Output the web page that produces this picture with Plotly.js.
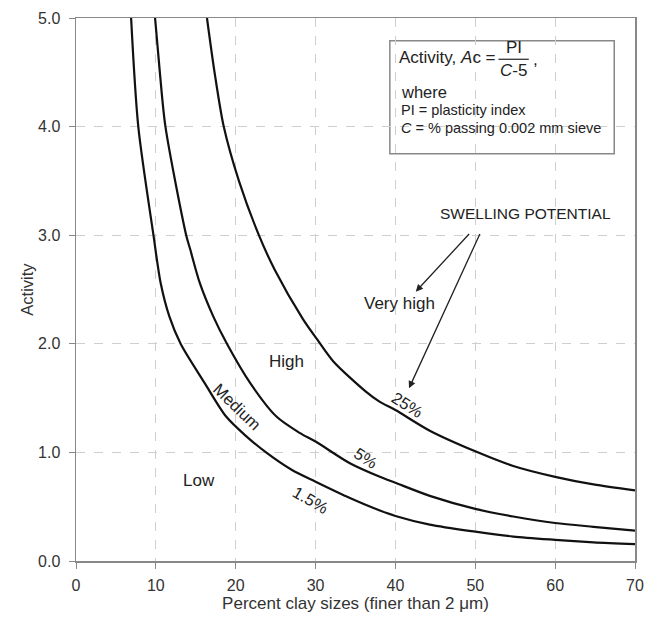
<!DOCTYPE html>
<html>
<head>
<meta charset="utf-8">
<script src="https://cdn.plot.ly/plotly-3.0.1.min.js"></script>
<style>html,body{margin:0;padding:0;background:#fff;}#chart{width:646px;height:622px;}</style>
</head>
<body>
<div id="chart"></div>
<script>
// Swelling potential curves (clay % vs activity)
const clay_1_5 = [6.9, 7.8, 9.7, 10.6, 11.7, 13.1, 16.1, 18.8, 21.3, 23.8, 27, 30, 34.3, 38.05, 40, 44.3, 50, 54.75, 60, 64.8, 70];
const act_1_5  = [5.0, 4.0, 3.0, 2.56, 2.25, 2.0, 1.64, 1.33, 1.15, 1.0, 0.84, 0.73, 0.58, 0.465, 0.415, 0.335, 0.27, 0.225, 0.195, 0.172, 0.155];

const clay_5 = [9.9, 10.5, 11.2, 13.8, 14.3, 15.5, 17.2, 18.9, 21.8, 25.1, 28.0, 30, 34.3, 38.05, 40, 44.3, 50, 54.75, 60, 64.8, 70];
const act_5  = [5.0, 4.5, 4.0, 3.0, 2.87, 2.56, 2.25, 2.0, 1.64, 1.33, 1.18, 1.10, 0.90, 0.775, 0.72, 0.60, 0.48, 0.41, 0.35, 0.315, 0.28];

const clay_25 = [16.4, 17.35, 18.5, 20.4, 22.9, 24.9, 28.4, 30.2, 32.2, 36.3, 38.05, 40, 44.3, 50, 54.75, 60, 64.8, 70];
const act_25  = [5.0, 4.5, 4.0, 3.5, 3.0, 2.68, 2.23, 2.04, 1.84, 1.56, 1.465, 1.39, 1.2, 1.01, 0.875, 0.775, 0.705, 0.65];

const xTicks = [0, 10, 20, 30, 40, 50, 60, 70];
const yTicks = [0, 1, 2, 3, 4, 5];
const yTickText = ['0.0', '1.0', '2.0', '3.0', '4.0', '5.0'];

const FONT = 'Liberation Sans, Arial, Helvetica, sans-serif';
const lineStyle = {color: '#111', width: 2.2, shape: 'spline', smoothing: 0.8};

const traces = [
  {x: clay_1_5, y: act_1_5, mode: 'lines', line: lineStyle, name: '1.5%', hoverinfo: 'x+y'},
  {x: clay_5, y: act_5, mode: 'lines', line: lineStyle, name: '5%', hoverinfo: 'x+y'},
  {x: clay_25, y: act_25, mode: 'lines', line: lineStyle, name: '25%', hoverinfo: 'x+y'}
];

function txt(x, y, text, size, opts) {
  return Object.assign({x: x, y: y, xref: 'x', yref: 'y', text: text, showarrow: false,
    font: {family: FONT, size: size, color: '#222'}}, opts || {});
}

const annotations = [
  txt(52.8, 4.64, 'Activity, <i>A</i>c =', 17, {xanchor: 'right', yanchor: 'middle'}),
  txt(54.8, 4.73, 'PI', 17, {xanchor: 'center', yanchor: 'middle'}),
  txt(54.8, 4.52, '<i>C</i>-5', 17, {xanchor: 'center', yanchor: 'middle'}),
  txt(57.0, 4.62, ',', 17, {xanchor: 'left', yanchor: 'middle'}),
  txt(40.4, 4.32, 'where', 16.5, {xanchor: 'left', yanchor: 'middle'}),
  txt(40.4, 4.15, 'PI = plasticity index', 14.5, {xanchor: 'left', yanchor: 'middle'}),
  txt(40.4, 3.99, '<i>C</i> = % passing 0.002 mm sieve', 14.5, {xanchor: 'left', yanchor: 'middle'}),
  txt(45.3, 3.20, 'SWELLING POTENTIAL', 15.5, {xanchor: 'left', yanchor: 'middle'}),
  txt(40.5, 2.375, 'Very high', 17, {xanchor: 'center', yanchor: 'middle'}),
  txt(26.3, 1.84, 'High', 17, {xanchor: 'center', yanchor: 'middle'}),
  txt(20.25, 1.42, 'Medium', 16.5, {xanchor: 'center', yanchor: 'middle', textangle: 44}),
  txt(15.4, 0.74, 'Low', 17, {xanchor: 'center', yanchor: 'middle'}),
  txt(41.55, 1.44, '25%', 16.5, {xanchor: 'center', yanchor: 'middle', textangle: 32}),
  txt(36.3, 0.95, '5%', 16.5, {xanchor: 'center', yanchor: 'middle', textangle: 33}),
  txt(29.4, 0.566, '1.5%', 16.5, {xanchor: 'center', yanchor: 'middle', textangle: 30}),
  {x: 42.55, y: 2.48, ax: 49.4, ay: 3.025, xref: 'x', yref: 'y', axref: 'x', ayref: 'y', text: '',
   showarrow: true, arrowhead: 2, arrowsize: 1.1, arrowwidth: 1.3, arrowcolor: '#222'},
  {x: 41.7, y: 1.59, ax: 50.66, ay: 3.025, xref: 'x', yref: 'y', axref: 'x', ayref: 'y', text: '',
   showarrow: true, arrowhead: 2, arrowsize: 1.1, arrowwidth: 1.3, arrowcolor: '#222'}
];

const shapes = [
  {type: 'rect', xref: 'x', yref: 'y', x0: 39.3, x1: 67.4, y0: 3.75, y1: 4.79,
   line: {color: '#888', width: 1.5}, fillcolor: 'rgba(255,255,255,1)', layer: 'below'},
  {type: 'line', xref: 'x', yref: 'y', x0: 52.9, x1: 56.7, y0: 4.62, y1: 4.62,
   line: {color: '#222', width: 1.2}}
];

const axisCommon = {
  showline: true, linecolor: '#888', linewidth: 1.5, mirror: true,
  ticks: 'outside', ticklen: 6, tickcolor: '#888', tickwidth: 1,
  showgrid: true, gridcolor: '#cfcfcf', griddash: 'dash', gridwidth: 1,
  zeroline: false, tickfont: {family: FONT, size: 16, color: '#333'}
};

const layout = {
  width: 646, height: 622,
  margin: {l: 76, r: 11, t: 18, b: 61},
  paper_bgcolor: '#fff', plot_bgcolor: '#fff',
  showlegend: false,
  xaxis: Object.assign({}, axisCommon, {
    range: [0, 70], tickvals: xTicks, ticklabelstandoff: 3,
    title: {text: 'Percent clay sizes (finer than 2 μm)', font: {family: FONT, size: 17, color: '#333'}, standoff: 4}
  }),
  yaxis: Object.assign({}, axisCommon, {
    range: [0, 5], tickvals: yTicks, ticktext: yTickText, ticklabelstandoff: 5,
    title: {text: 'Activity', font: {family: FONT, size: 16.5, color: '#333'}, standoff: 0}
  }),
  annotations: annotations,
  shapes: shapes
};

Plotly.newPlot('chart', traces, layout, {displayModeBar: false, staticPlot: true});
</script>
</body>
</html>
